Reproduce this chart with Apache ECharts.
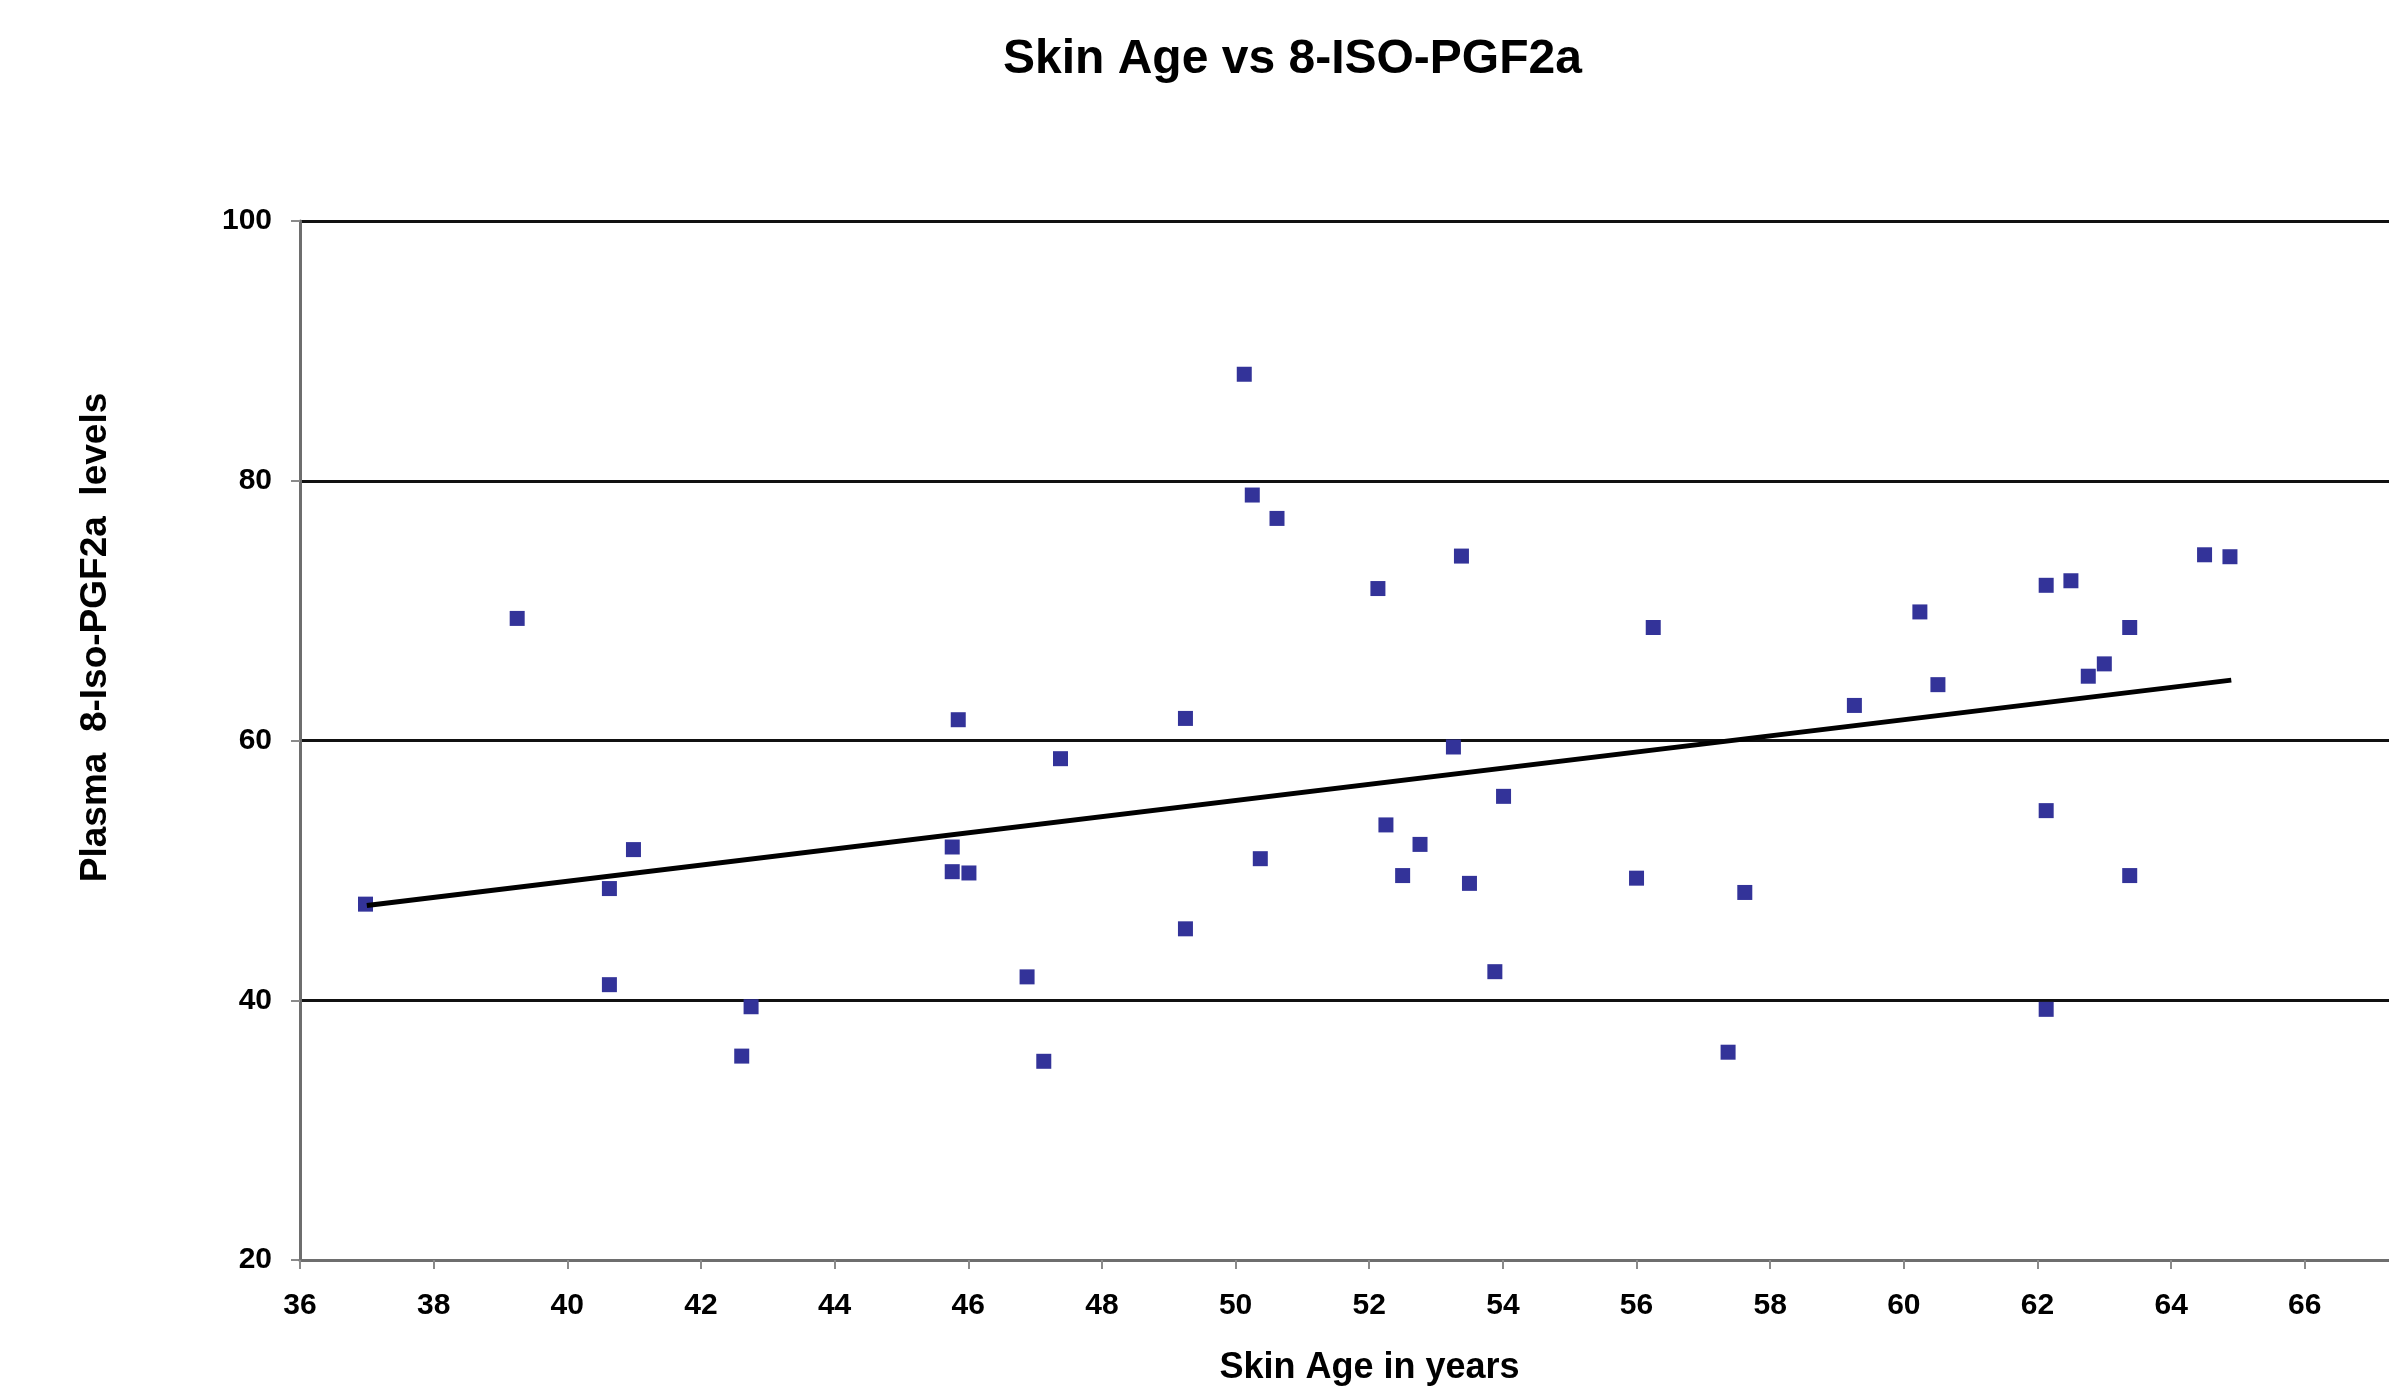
<!DOCTYPE html>
<html>
<head>
<meta charset="utf-8">
<title>Skin Age vs 8-ISO-PGF2a</title>
<script src="https://cdn.jsdelivr.net/npm/echarts@6/dist/echarts.min.js"></script>
<style>
  html, body { margin: 0; padding: 0; background: #fff; }
  #chart { width: 2389px; height: 1391px; }
</style>
</head>
<body>
<div id="chart"></div>
<script>
// skin age (years) and plasma 8-iso-PGF2a
var ages = [
  36.98, 39.25, 40.63, 40.63, 40.99, 42.61, 42.75, 45.76, 45.85, 45.76,
  46.01, 46.88, 47.13, 47.38, 49.25, 49.25, 50.13, 50.25, 50.37, 50.62,
  52.13, 52.25, 52.50, 52.76, 53.26, 53.38, 53.50, 53.88, 54.01, 56.00,
  56.25, 57.37, 57.62, 59.26, 60.24, 60.51, 62.13, 62.13, 62.13, 62.50,
  62.76, 63.00, 63.38, 63.38, 64.50, 64.88
];
var levels = [
  47.4, 69.4, 48.6, 41.2, 51.6, 35.7, 39.5, 51.8, 61.6, 49.9,
  49.8, 41.8, 35.3, 58.6, 61.7, 45.5, 88.2, 78.9, 50.9, 77.1,
  71.7, 53.5, 49.6, 52.0, 59.5, 74.2, 49.0, 42.2, 55.7, 49.4,
  68.7, 36.0, 48.3, 62.7, 69.9, 64.3, 71.95, 54.6, 39.3, 72.3,
  64.95, 65.9, 68.7, 49.6, 74.3, 74.15
];
// linear trend line ends
var trendX = [37.0, 64.9];
var trendY = [47.3, 64.65];

var xTicks = { min: 36, max: 67.26, step: 2 };
var yTicks = { min: 20, max: 100, step: 20 };

var font = '"Liberation Sans", Arial, sans-serif';

var points = ages.map(function (a, i) { return [a, levels[i]]; });
var trend = trendX.map(function (a, i) { return [a, trendY[i]]; });

var chart = echarts.init(document.getElementById('chart'));
chart.setOption({
  animation: false,
  backgroundColor: '#ffffff',
  title: {
    text: 'Skin Age vs 8-ISO-PGF2a',
    left: 998,
    top: 31,
    textStyle: { fontFamily: font, fontSize: 48, fontWeight: 'bold', color: '#000' }
  },
  grid: {
    left: 300,
    right: 0,
    top: 221,
    bottom: 130
  },
  xAxis: {
    type: 'value',
    z: 3,
    min: xTicks.min,
    max: xTicks.max,
    interval: xTicks.step,
    name: 'Skin Age in years',
    nameLocation: 'middle',
    nameGap: 90,
    nameTextStyle: {
      fontFamily: font, fontSize: 36, fontWeight: 'bold', color: '#000',
      padding: [0, 0, 0, 50]
    },
    axisLine: { show: true, onZero: false, lineStyle: { color: '#6e6e6e', width: 3 } },
    axisTick: { show: true, length: 9, lineStyle: { color: '#8a8a8a', width: 2 } },
    axisLabel: {
      showMaxLabel: false,
      margin: 31,
      fontFamily: font, fontSize: 30, fontWeight: 'bold', color: '#000'
    },
    splitLine: { show: false }
  },
  yAxis: {
    type: 'value',
    min: yTicks.min,
    max: yTicks.max,
    interval: yTicks.step,
    name: 'Plasma  8-Iso-PGF2a  levels',
    nameLocation: 'middle',
    nameGap: 186,
    nameTextStyle: {
      fontFamily: font, fontSize: 37, fontWeight: 'bold', color: '#000',
      padding: [0, 0, 0, 206]
    },
    axisLine: { show: true, lineStyle: { color: '#6e6e6e', width: 3 } },
    axisTick: { show: true, length: 9, lineStyle: { color: '#8a8a8a', width: 2 } },
    axisLabel: {
      margin: 28,
      fontFamily: font, fontSize: 30, fontWeight: 'bold', color: '#000'
    },
    splitLine: { show: true, lineStyle: { color: '#111', width: 3 } }
  },
  series: [
    {
      name: 'Plasma 8-Iso-PGF2a',
      type: 'scatter',
      symbol: 'rect',
      symbolSize: 15,
      itemStyle: { color: '#333399', opacity: 1 },
      data: points
    },
    {
      name: 'Trend',
      type: 'line',
      symbol: 'none',
      lineStyle: { color: '#000', width: 5 },
      data: trend
    }
  ]
});
</script>
</body>
</html>
